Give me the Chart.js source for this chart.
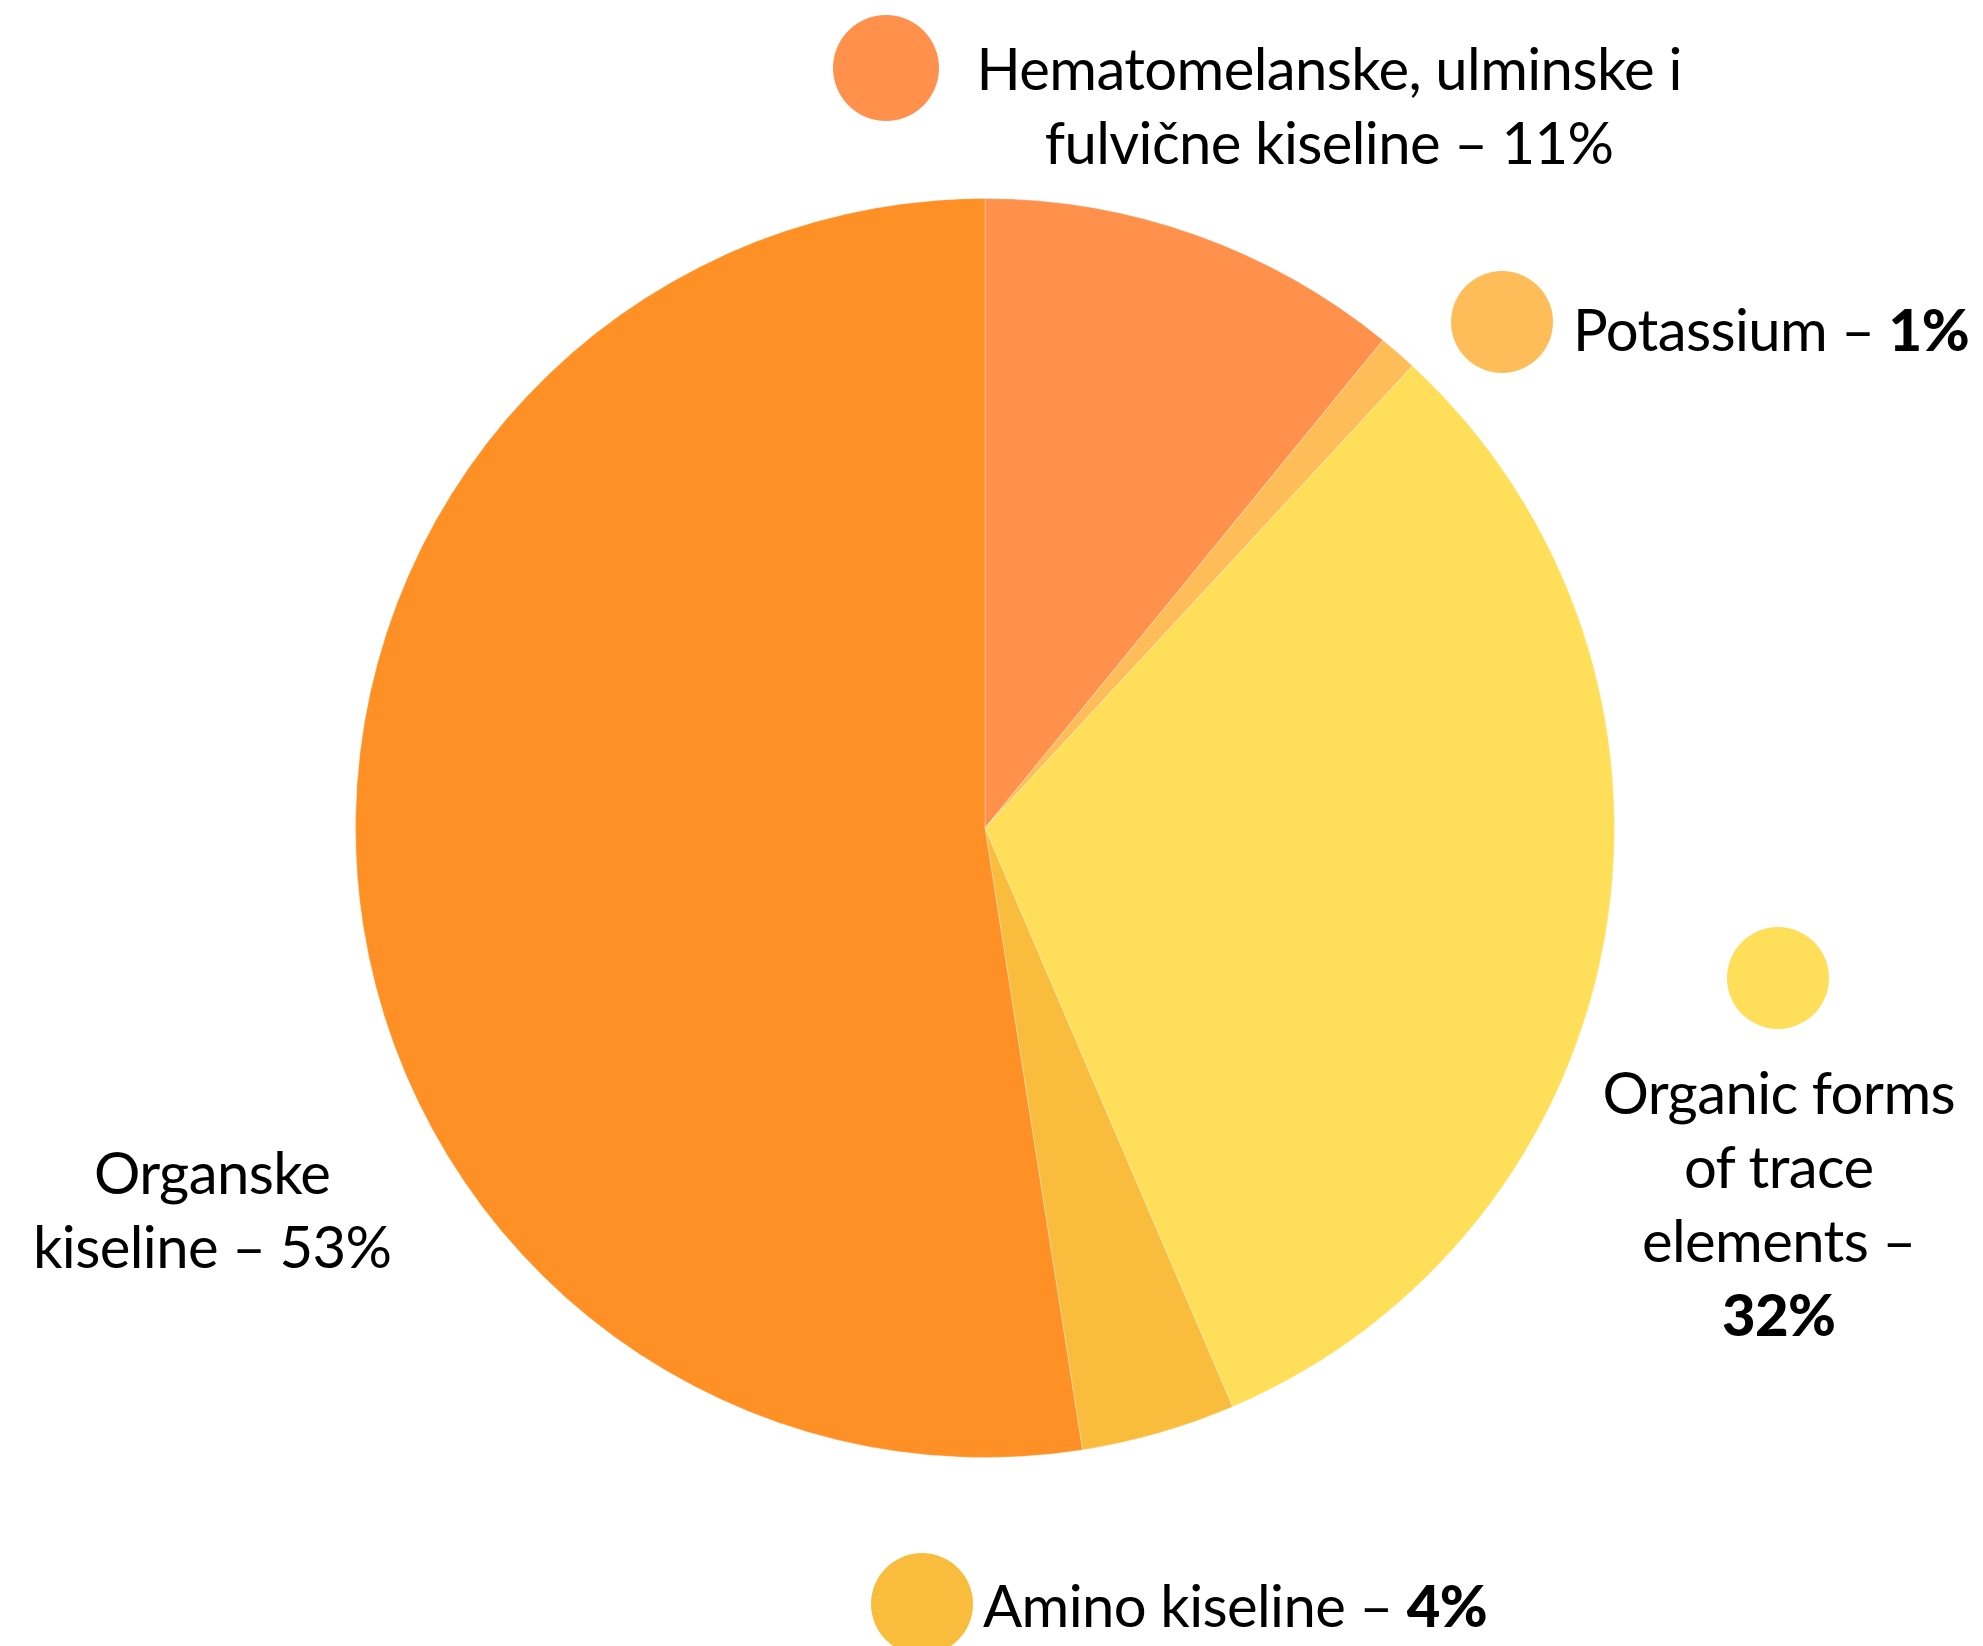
<!DOCTYPE html>
<html>
<head>
<meta charset="utf-8">
<script src="https://cdn.jsdelivr.net/npm/chart.js@4.4.1/dist/chart.umd.min.js"></script>
<style>
  html, body { margin: 0; padding: 0; background: #fff; }
  body { width: 1983px; height: 1646px; position: relative; overflow: hidden; font-family: Lato, 'Noto Sans', sans-serif; color: #000; }
  #wrap { position: absolute; left: 355px; top: 198px; width: 1260px; height: 1260px; }
  .dot { position: absolute; border-radius: 50%; }
  .lbl { position: absolute; font-size: 58px; line-height: 74px; letter-spacing: -0.6px; white-space: nowrap; text-align: center; }
  .lbl b { font-weight: 900; }
</style>
</head>
<body>
<div id="wrap"><canvas id="pieChart"></canvas></div>

<script>
// Slice data, clockwise from 12 o'clock
const labels = [
  'Hematomelanske, ulminske i fulvične kiseline',
  'Potassium',
  'Organic forms of trace elements',
  'Amino kiseline',
  'Organske kiseline'
];
const values = [11, 1, 32, 4, 53];
const colors = ['#FF914D', '#FFBD59', '#FFDE59', '#F9BC3D', '#FE9025'];

const pieChartI = new Chart(document.getElementById('pieChart'), {
  type: 'pie',
  data: {
    labels: labels,
    datasets: [{
      data: values,
      backgroundColor: colors,
      borderWidth: 1,
      borderColor: 'rgba(255,255,255,0.3)'
    }]
  },
  options: {
    responsive: true,
    maintainAspectRatio: false,
    animation: false,
    layout: { padding: 0 },
    plugins: { legend: { display: false }, tooltip: { enabled: false } }
  }
});

// Callout markers + labels (HTML text)
const callouts = [
  { i: 0, dot: [886, 68, 53], html: 'Hematomelanske, ulminske i<br>fulvične kiseline – ' + values[0] + '%', cx: 1329, top: 31 },
  { i: 1, dot: [1502, 322, 51], html: 'Potassium – <b>' + values[1] + '%</b>', left: 1573, top: 292 },
  { i: 2, dot: [1778, 978, 51], html: 'Organic forms<br>of trace<br>elements –<br><b>' + values[2] + '%</b>', cx: 1779, top: 1055 },
  { i: 3, dot: [922, 1604, 51], html: 'Amino kiseline – <b>' + values[3] + '%</b>', left: 983, top: 1568 },
  { i: 4, dot: null, html: 'Organske<br>kiseline – ' + values[4] + '%', cx: 212, top: 1135 }
];

callouts.forEach(c => {
  if (c.dot) {
    const d = document.createElement('div');
    d.className = 'dot';
    d.style.left = (c.dot[0] - c.dot[2]) + 'px';
    d.style.top = (c.dot[1] - c.dot[2]) + 'px';
    d.style.width = d.style.height = (c.dot[2] * 2) + 'px';
    d.style.background = colors[c.i];
    document.body.appendChild(d);
  }
  const t = document.createElement('div');
  t.className = 'lbl';
  t.innerHTML = c.html;
  t.style.top = c.top + 'px';
  document.body.appendChild(t);
  if (c.cx !== undefined) {
    t.style.left = (c.cx - t.offsetWidth / 2) + 'px';
  } else {
    t.style.left = c.left + 'px';
  }
});
</script>
</body>
</html>
